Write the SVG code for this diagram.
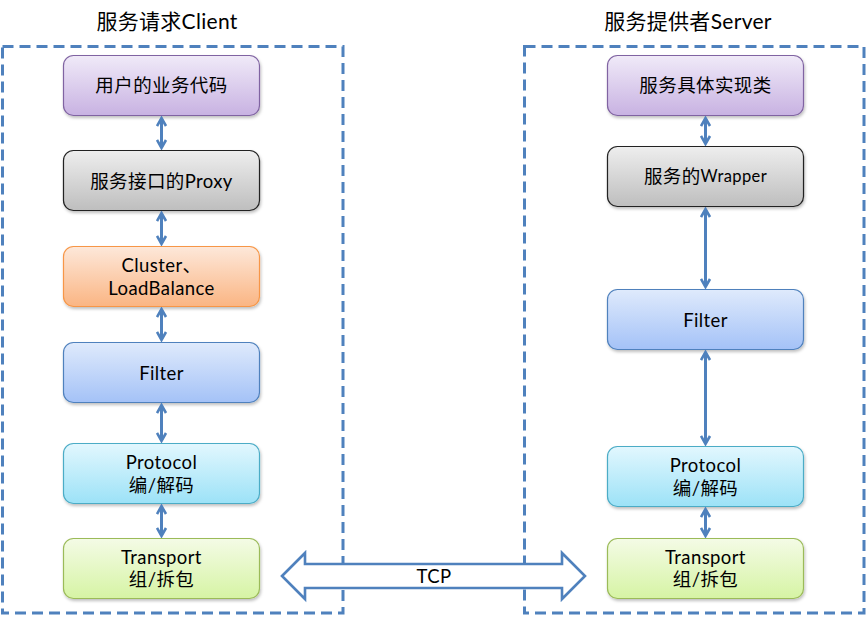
<svg xmlns="http://www.w3.org/2000/svg" width="867" height="617" viewBox="0 0 867 617">
<defs>
<linearGradient id="gPurple" x1="0" y1="0" x2="0" y2="1"><stop offset="0" stop-color="#F0EAF8"/><stop offset="1" stop-color="#C8B2E2"/></linearGradient>
<linearGradient id="gGray" x1="0" y1="0" x2="0" y2="1"><stop offset="0" stop-color="#EEEEEE"/><stop offset="1" stop-color="#BEBEBE"/></linearGradient>
<linearGradient id="gOrange" x1="0" y1="0" x2="0" y2="1"><stop offset="0" stop-color="#FDE8DA"/><stop offset="1" stop-color="#FAB583"/></linearGradient>
<linearGradient id="gBlue" x1="0" y1="0" x2="0" y2="1"><stop offset="0" stop-color="#DFEAFC"/><stop offset="1" stop-color="#A4C2F7"/></linearGradient>
<linearGradient id="gCyan" x1="0" y1="0" x2="0" y2="1"><stop offset="0" stop-color="#E2F7FE"/><stop offset="1" stop-color="#9CE2F7"/></linearGradient>
<linearGradient id="gGreen" x1="0" y1="0" x2="0" y2="1"><stop offset="0" stop-color="#F4FBE6"/><stop offset="1" stop-color="#D6F4A4"/></linearGradient>
<filter id="sh" x="-10%" y="-10%" width="120%" height="130%"><feDropShadow dx="1" dy="2" stdDeviation="1.5" flood-color="#000" flood-opacity="0.25"/></filter>
<marker id="ah" viewBox="0 0 12 12" refX="10" refY="6" markerWidth="12" markerHeight="12" markerUnits="userSpaceOnUse" orient="auto-start-reverse">
<path d="M2,1.5 L10,6 L2,10.5" fill="none" stroke="#4F81BD" stroke-width="2.6"/>
</marker>
<style>
.frame{fill:none;stroke:#4F81BD;stroke-width:3;stroke-dasharray:11 6}
.node rect{filter:url(#sh);stroke-width:1.2}
.t{font-family:Lato,"Noto Sans CJK SC",sans-serif;font-size:18.5px;letter-spacing:0.4px;fill:#000;text-anchor:middle;dominant-baseline:central}
.title{font-family:Lato,"Noto Sans CJK SC",sans-serif;font-size:21px;letter-spacing:0.3px;fill:#000;text-anchor:middle;dominant-baseline:central}
.c{stroke:#4F81BD;stroke-width:3;fill:none;marker-start:url(#ah);marker-end:url(#ah)}
</style>
</defs>
<rect width="867" height="617" fill="#fff"/>
<g id="frames">
<rect class="frame" x="2.5" y="46.5" width="340.5" height="566.5"/>
<rect class="frame" x="524.5" y="46.5" width="339.5" height="566.5"/>
<text class="title" x="167" y="20">服务请求Client</text>
<text class="title" x="688" y="20">服务提供者Server</text>
</g>
<g id="client-user" class="node"><rect x="63.5" y="55.5" width="196" height="60" rx="10" fill="url(#gPurple)" stroke="#8064A2"/><text class="t" x="161.5" y="85">用户的业务代码</text></g>
<g id="client-proxy" class="node"><rect x="63.5" y="150.5" width="196" height="60" rx="10" fill="url(#gGray)" stroke="#222"/><text class="t" x="161.5" y="180.5">服务接口的Proxy</text></g>
<g id="client-cluster" class="node"><rect x="63.5" y="246.5" width="196" height="60" rx="10" fill="url(#gOrange)" stroke="#F79646"/><text class="t" x="161.5" y="265.3">Cluster、</text><text class="t" x="161.5" y="287.6">LoadBalance</text></g>
<g id="client-filter" class="node"><rect x="63.5" y="342.5" width="196" height="60" rx="10" fill="url(#gBlue)" stroke="#4F81BD"/><text class="t" x="161.5" y="372.5">Filter</text></g>
<g id="client-protocol" class="node"><rect x="63.5" y="443.5" width="196" height="60" rx="10" fill="url(#gCyan)" stroke="#4BACC6"/><text class="t" x="161.5" y="462.3">Protocol</text><text class="t" x="161.5" y="484.6">编/解码</text></g>
<g id="client-transport" class="node"><rect x="63.5" y="538.5" width="196" height="60" rx="10" fill="url(#gGreen)" stroke="#9BBB59"/><text class="t" x="161.5" y="556.8">Transport</text><text class="t" x="161.5" y="579.1">组/拆包</text></g>
<g id="server-impl" class="node"><rect x="607.5" y="55.5" width="196" height="60" rx="10" fill="url(#gPurple)" stroke="#8064A2"/><text class="t" x="705.5" y="85">服务具体实现类</text></g>
<g id="server-wrapper" class="node"><rect x="607.5" y="146.5" width="196" height="60" rx="10" fill="url(#gGray)" stroke="#222"/><text class="t" x="705.5" y="176">服务的<tspan font-size="16.5">Wrapper</tspan></text></g>
<g id="server-filter" class="node"><rect x="607.5" y="289.5" width="196" height="60" rx="10" fill="url(#gBlue)" stroke="#4F81BD"/><text class="t" x="705.5" y="319.5">Filter</text></g>
<g id="server-protocol" class="node"><rect x="607.5" y="446.5" width="196" height="60" rx="10" fill="url(#gCyan)" stroke="#4BACC6"/><text class="t" x="705.5" y="465.3">Protocol</text><text class="t" x="705.5" y="487.6">编/解码</text></g>
<g id="server-transport" class="node"><rect x="607.5" y="538.5" width="196" height="60" rx="10" fill="url(#gGreen)" stroke="#9BBB59"/><text class="t" x="705.5" y="556.8">Transport</text><text class="t" x="705.5" y="579.1">组/拆包</text></g>
<g id="connectors">
<path class="c" d="M161.5,118 V148"/>
<path class="c" d="M161.5,213 V244"/>
<path class="c" d="M161.5,309 V340"/>
<path class="c" d="M161.5,405 V441"/>
<path class="c" d="M161.5,506 V536"/>
<path class="c" d="M705.5,118 V144"/>
<path class="c" d="M705.5,209 V287"/>
<path class="c" d="M705.5,352 V444"/>
<path class="c" d="M705.5,509 V536"/>
<path d="M282,576 L305,553 V564 H562 V553 L585,576 L562,599 V588 H305 V599 Z" fill="#fff" stroke="#4F81BD" stroke-width="2.6" stroke-linejoin="miter"/>
<text class="t" x="434" y="576">TCP</text>
</g>
</svg>
